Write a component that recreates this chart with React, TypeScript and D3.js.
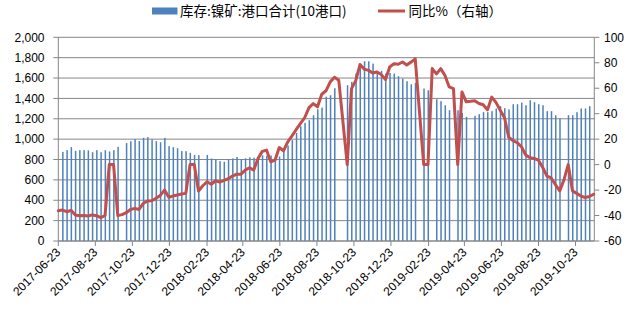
import React from "react";
import * as d3 from "d3";

// ---- data ----
const startDate = "2017-06-23";
const weekCount = 127;

// Inventory: nickel ore, 10 ports total (left axis); null = no data that week
const inventory: (number | null)[] = [
  null, 875, 892, 922, 885, 892, 892, 890, 872, 892,
  872, 892, 879, 892, 925, null, 961, 980, 1000, 982,
  1013, 1020, 998, 980, 969, 1012, 931, 921, 911, 883,
  882, 866, 845, 843, null, 845, 810, 804, 784, 778,
  804, 810, 825, 803, 812, 822, 818, 810, 842, 838,
  840, 812, 830, 886, 938, 990, 1062, 1127, 1160, 1186,
  1235, 1293, 1310, 1417, 1431, 1500, null, null, 1529, 1562,
  1644, 1709, 1765, 1765, 1742, 1670, 1670, 1644, 1650, 1644,
  1618, 1595, 1569, 1539, 1552, null, 1497, 1480, null, 1392,
  1373, 1333, 1284, null, 1284, 1258, 1219, null, 1229, 1245,
  1265, 1265, 1275, 1301, 1324, 1304, 1292, 1343, 1343, 1359,
  1333, 1382, 1363, 1343, 1333, 1275, 1275, 1235, 1203, null,
  1235, 1235, 1265, 1301, 1301, 1324, null,
];

// YoY % (right axis)
const yoy: (number | null)[] = [
  -36.2, -35.7, -37, -35.9, -39.6, -40.1, -39.9, -40.4, -39.5, -40.1,
  -41.7, -40, 0, 0, -40.1, -39.3, -37.8, -35.2, -34.4, -35.2,
  -30.5, -28.5, -28.4, -26.5, -24.2, -20, -25.7, -24.7, -23.9, -23.1,
  -22.6, 0, 0, -20.8, -16.6, -13.5, -15.4, -12.7, -13.8, -12.4,
  -11.1, -9, -7.5, -7.5, -4.3, -2.5, -4.3, 4.8, 10.4, 11.4,
  2.2, 3.5, 13.4, 10.9, 17.9, 22.6, 27.6, 32.3, 37, 44.8,
  47.9, 45.4, 55.3, 58, 65, 68.6, 66.3, null, 0, 59.7,
  66, 78.6, 75, 74, 72, 72.8, 70.7, 66.8, 76.7, 79.3,
  78.8, 80.6, 78.3, 80.5, 83, null, 0, 0, 75.4, 71.3,
  75.4, 70, 61, 59.7, 0, 57.1, 49.3, 49.7, 50.2, 48,
  47, 43, 53, 48.9, 42.7, 37, 21.5, 18.8, 17.3, 14,
  7.5, 5.5, 4.8, 3.5, -2.3, -9, -10.5, -15.7, -20.6, -12,
  0, -20.6, -22.6, -24.7, -25.8, -25, -23.3,
];

const xTickLabels = [
  "2017-06-23", "2017-08-23", "2017-10-23", "2017-12-23", "2018-02-23",
  "2018-04-23", "2018-06-23", "2018-08-23", "2018-10-23", "2018-12-23",
  "2019-02-23", "2019-04-23", "2019-06-23", "2019-08-23", "2019-10-23",
];
const leftTicks = [0, 200, 400, 600, 800, 1000, 1200, 1400, 1600, 1800, 2000];
const rightTicks = [-60, -40, -20, 0, 20, 40, 60, 80, 100];

const barLabel = "库存:镍矿:港口合计(10港口)";
const lineLabel = "同比%（右轴）";

// ---- layout ----
const W = 642, H = 313;
const left = 58.3, right = 594.3, top = 37.3, bottom = 241;
const BAR = "#4F81BD", LINE = "#C0504D", GRID = "#868686";
const NUM_FONT = "'Liberation Sans', Arial, sans-serif";
const CJK_FONT = "'Noto Sans CJK SC', 'Noto Sans', sans-serif";

const parse = d3.utcParse("%Y-%m-%d");
const d0 = parse(startDate)!;
const dates = d3.range(weekCount).map((i) => d3.utcDay.offset(d0, 7 * i));

export default function App() {
  React.useEffect(() => {
    document.body.style.margin = "0";
  }, []);

  const x = d3
    .scaleUtc()
    .domain([d0, d3.utcDay.offset(dates[dates.length - 1], 1)])
    .range([left, right]);
  const yL = d3.scaleLinear().domain([0, 2000]).range([bottom, top]);
  const yR = d3.scaleLinear().domain([-60, 100]).range([bottom, top]);

  const pts = yoy
    .map((v, i) => ({ v, d: dates[i] }))
    .filter((p) => p.v !== null) as { v: number; d: Date }[];
  const linePath = d3
    .line<{ v: number; d: Date }>()
    .x((p) => x(p.d))
    .y((p) => yR(p.v))(pts);

  const barW = 1.5;

  return (
    <svg
      width={W}
      height={H}
      style={{ position: "absolute", left: 0, top: 0, background: "#fff" }}
    >
      {/* gridlines */}
      {leftTicks.map((t) => (
        <line
          key={"g" + t}
          x1={left - 5}
          x2={right}
          y1={yL(t)}
          y2={yL(t)}
          stroke={GRID}
          strokeWidth={1}
        />
      ))}
      {/* right tick marks */}
      {rightTicks.map((t) => (
        <line
          key={"rt" + t}
          x1={right}
          x2={right + 5}
          y1={yR(t)}
          y2={yR(t)}
          stroke={GRID}
          strokeWidth={1}
        />
      ))}
      {/* bars */}
      {inventory.map((v, i) =>
        v === null ? null : (
          <rect
            key={"b" + i}
            x={x(dates[i]) - barW / 2 + 0.3}
            y={yL(v)}
            width={barW}
            height={yL(0) - yL(v)}
            fill={BAR}
          />
        )
      )}
      {/* axes */}
      <line x1={left} x2={left} y1={top} y2={bottom} stroke={GRID} strokeWidth={1} />
      <line x1={right} x2={right} y1={top} y2={bottom} stroke={GRID} strokeWidth={1} />
      <line x1={left} x2={right} y1={bottom} y2={bottom} stroke={GRID} strokeWidth={1} />
      {/* line */}
      <path
        d={linePath || ""}
        fill="none"
        stroke={LINE}
        strokeWidth={3}
        strokeLinejoin="round"
        strokeLinecap="round"
      />
      {/* x ticks and labels */}
      {xTickLabels.map((s) => {
        const tx = x(parse(s)!);
        return (
          <g key={"x" + s}>
            <line x1={tx} x2={tx} y1={bottom} y2={bottom + 5} stroke={GRID} strokeWidth={1} />
            <text
              transform={`translate(${tx + 3},${bottom + 12}) rotate(-45)`}
              textAnchor="end"
              fontFamily={NUM_FONT}
              fontSize={12}
              fill="#000"
            >
              {s}
            </text>
          </g>
        );
      })}
      {/* left labels */}
      {leftTicks.map((t) => (
        <text
          key={"l" + t}
          x={44.5}
          y={yL(t)}
          dy="0.35em"
          textAnchor="end"
          fontFamily={NUM_FONT}
          fontSize={12}
          fill="#000"
        >
          {d3.format(",")(t)}
        </text>
      ))}
      {/* right labels */}
      {rightTicks.map((t) => (
        <text
          key={"r" + t}
          x={604}
          y={yR(t)}
          dy="0.35em"
          textAnchor="start"
          fontFamily={NUM_FONT}
          fontSize={12}
          fill="#000"
        >
          {t}
        </text>
      ))}
      {/* legend */}
      <rect x={152} y={7.5} width={25.5} height={7} fill={BAR} />
      <text x={180} y={16} fontFamily={CJK_FONT} fontSize={13.5} fill="#000">
        {barLabel}
      </text>
      <line x1={378} x2={405} y1={11} y2={11} stroke={LINE} strokeWidth={3} />
      <text x={408.5} y={16} fontFamily={CJK_FONT} fontSize={13.5} fill="#000">
        {lineLabel}
      </text>
    </svg>
  );
}
